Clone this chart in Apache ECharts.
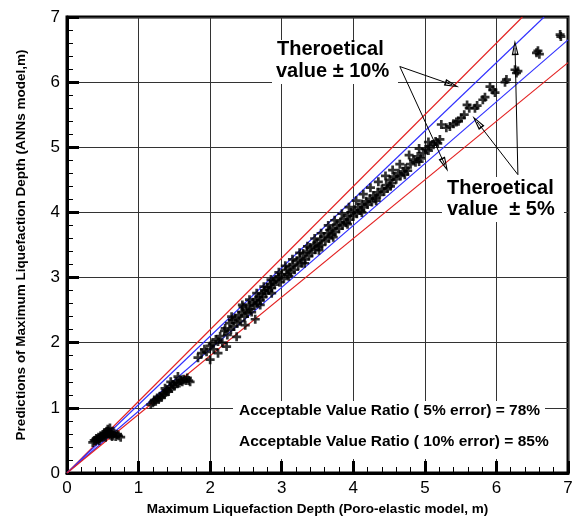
<!DOCTYPE html>
<html>
<head>
<meta charset="utf-8">
<script src="https://cdn.jsdelivr.net/npm/echarts@6/dist/echarts.min.js"></script>
<style>
  html, body { margin: 0; padding: 0; background: #fff; }
  #chart { width: 574px; height: 518px; }
</style>
</head>
<body>
<div id="chart"></div>
<script>
  // poro-elastic depth vs ANN prediction
  const samples = [
    [0.36,0.47],[0.38,0.50],[0.40,0.49],[0.41,0.53],[0.43,0.51],[0.44,0.55],[0.46,0.53],[0.47,0.57],
    [0.48,0.55],[0.50,0.59],[0.51,0.56],[0.52,0.61],[0.53,0.58],[0.55,0.63],[0.56,0.60],[0.57,0.67],
    [0.58,0.64],[0.59,0.61],[0.60,0.69],[0.61,0.58],[0.62,0.63],[0.64,0.58],[0.66,0.61],[0.68,0.56],
    [0.70,0.59],[0.72,0.57],[0.75,0.55],[0.45,0.50],[0.54,0.55],[0.63,0.56],
    [1.17,1.05],[1.20,1.08],[1.22,1.12],[1.24,1.10],[1.26,1.15],[1.28,1.13],[1.30,1.18],[1.32,1.16],
    [1.34,1.22],[1.36,1.20],[1.37,1.30],[1.38,1.24],[1.40,1.27],[1.42,1.25],[1.44,1.33],[1.46,1.30],
    [1.48,1.36],[1.50,1.33],[1.52,1.40],[1.54,1.37],[1.55,1.48],[1.57,1.38],[1.59,1.42],[1.61,1.40],
    [1.63,1.44],[1.66,1.42],[1.68,1.46],[1.70,1.42],[1.72,1.40],[1.45,1.40],
    [1.83,1.77],[1.88,1.84],[1.92,1.90],[1.95,1.86],[2.00,1.74],[2.00,1.95],[2.03,1.98],[2.05,1.90],
    [2.08,2.05],[2.11,1.84],[2.11,2.02],[2.14,2.10],[2.17,2.00],[2.20,2.18],[2.21,2.22],[2.23,1.94],
    [2.24,2.12],[2.27,2.30],[2.29,2.20],[2.31,2.35],[2.33,2.25],[2.35,2.38],[2.37,2.09],[2.38,2.30],
    [2.40,2.42],[2.42,2.33],[2.44,2.47],[2.46,2.55],[2.48,2.40],[2.49,2.27],[2.50,2.50],[2.52,2.45],
    [2.54,2.58],[2.56,2.52],[2.58,2.47],[2.60,2.62],[2.62,2.57],[2.63,2.36],[2.64,2.66],[2.66,2.60],
    [2.68,2.70],[2.70,2.65],[2.72,2.75],[2.74,2.70],[2.76,2.80],[2.78,2.76],[2.80,2.85],[2.82,2.80],
    [2.84,2.90],[2.86,2.84],[2.88,2.94],[2.90,2.89],[2.92,2.97],[2.95,3.01],[2.97,2.93],
    [2.30,2.40],[2.45,2.58],[2.55,2.66],[2.65,2.76],[2.75,2.86],[2.85,2.97],[2.96,3.08],[2.70,2.58],
    [2.86,2.76],
    [3.00,3.05],[3.03,2.98],[3.06,3.12],[3.08,3.05],[3.11,3.16],[3.13,3.08],[3.16,3.20],[3.18,3.12],
    [3.21,3.26],[3.23,3.18],[3.26,3.30],[3.28,3.22],[3.30,3.37],[3.33,3.28],[3.35,3.40],[3.38,3.33],
    [3.40,3.46],[3.42,3.38],[3.45,3.50],[3.47,3.43],[3.49,3.53],[3.52,3.47],[3.54,3.58],[3.56,3.50],
    [3.59,3.63],[3.61,3.56],[3.64,3.68],[3.66,3.60],[3.67,3.73],[3.70,3.66],[3.72,3.76],[3.75,3.70],
    [3.77,3.81],[3.80,3.75],[3.82,3.85],[3.85,3.80],[3.87,3.90],[3.90,3.84],[3.92,3.95],[3.95,3.89],
    [3.97,4.00],[4.00,3.94],[4.02,4.04],[4.05,3.98],[4.07,4.08],[4.10,4.03],[4.12,4.13],[4.15,4.08],
    [4.18,4.17],[4.20,4.12],[4.23,4.21],[4.26,4.16],[4.28,4.26],[4.31,4.22],[4.34,4.31],[4.37,4.27],
    [4.40,4.36],[4.43,4.32],[4.46,4.42],[4.48,4.37],
    [3.05,3.18],[3.15,3.28],[3.25,3.38],[3.36,3.48],[3.46,3.60],[3.55,3.68],[3.65,3.80],[3.74,3.88],
    [3.84,3.98],[3.94,4.08],[4.04,4.18],[4.14,4.28],[4.24,4.38],[4.35,4.47],[4.45,4.56],
    [3.10,3.02],[3.32,3.22],[3.52,3.42],[3.72,3.62],[3.92,3.82],[4.12,4.00],[4.32,4.18],
    [4.51,4.50],[4.54,4.45],[4.57,4.55],[4.60,4.51],[4.63,4.60],[4.66,4.56],[4.70,4.63],[4.73,4.68],
    [4.76,4.64],[4.80,4.74],[4.84,4.81],[4.87,4.77],[4.90,4.86],[4.94,4.83],[4.98,4.91],[5.01,4.97],
    [5.05,4.95],[5.08,5.02],[5.12,5.04],[5.15,5.09],[5.18,5.06],[5.21,5.12],[5.23,5.35],[5.30,5.30],
    [5.35,5.32],[5.40,5.36],[5.44,5.39],[5.47,5.40],[5.51,5.45],[5.55,5.50],
    [4.55,4.65],[4.65,4.74],[4.78,4.88],[4.92,4.98],[5.05,5.08],[4.52,4.40],[4.72,4.58],[4.92,4.78],
    [5.59,5.65],[5.62,5.60],[5.70,5.60],[5.73,5.64],[5.81,5.73],[5.84,5.77],[5.91,5.93],[5.95,5.88],
    [5.98,5.84],[6.12,6.00],[6.14,6.04],[6.26,6.19],[6.28,6.14],[6.30,6.17],[6.56,6.45],[6.60,6.43],
    [6.58,6.48],[6.89,6.73],[6.90,6.70]
  ];

  // error band ratios (prediction = ratio * theoretical)
  const bandRatios = [1.1, 1.05, 0.95, 0.9];
  const bandColors = ['#e32020', '#3030ff', '#3030ff', '#e32020'];

  // annotation arrows, [from, to] in data units
  const arrows10 = [
    [[4.65, 6.24], [5.38, 5.96]],
    [[4.65, 6.24], [5.28, 4.73]]
  ];
  const arrows5 = [
    [[6.30, 4.58], [5.73, 5.39]],
    [[6.30, 4.58], [6.26, 6.53]]
  ];

  const axisMax = 7;
  const font = '"Liberation Sans", Arial, sans-serif';
  const hollowHead = 'path://M5,0L10,20L0,20Z M5,6L2.2,18L7.8,18Z';

  const chart = echarts.init(document.getElementById('chart'));

  const bandSeries = bandRatios.map((r, i) => ({
    type: 'line',
    color: bandColors[i],
    data: [[0, 0], r > 1 ? [axisMax / r, axisMax] : [axisMax, axisMax * r]],
    symbol: 'none',
    silent: true,
    emphasis: { disabled: true },
    lineStyle: { color: bandColors[i], width: 1.1, opacity: 1 },
    z: 2
  }));

  const arrowLines = arrows10.concat(arrows5).map(a => [
    { coord: a[0], symbol: 'none' },
    { coord: a[1], symbol: hollowHead, symbolSize: [7, 15] }
  ]);

  const axisCommon = {
    type: 'value',
    min: 0,
    max: axisMax,
    interval: 1,
    axisLine: { show: true, onZero: false, lineStyle: { color: '#000', width: 3 } },
    axisTick: { show: true, inside: true, length: 12, lineStyle: { color: '#000', width: 3 } },
    minorTick: { show: true, splitNumber: 5, length: 6, lineStyle: { color: '#000', width: 1 } },
    splitLine: { show: true, lineStyle: { color: '#333', width: 1 } },
    axisLabel: { color: '#000', fontSize: 17, fontFamily: font, margin: 7 },
    nameLocation: 'middle',
    nameTextStyle: { color: '#000', fontSize: 13.5, fontWeight: 'bold', fontFamily: font }
  };

  const option = {
    backgroundColor: '#fff',
    animation: false,
    grid: {
      left: 67, right: 6, top: 17, bottom: 45,
      outerBoundsMode: 'none',
      show: true, borderColor: '#000', borderWidth: 3, backgroundColor: 'transparent'
    },
    xAxis: Object.assign({}, axisCommon, {
      name: 'Maximum Liquefaction Depth (Poro-elastic model, m)',
      nameGap: 28
    }),
    yAxis: Object.assign({}, axisCommon, {
      name: 'Predictions of Maximum Liquefaction Depth (ANNs model,m)',
      nameGap: 39
    }),
    series: bandSeries.concat([
      {
        type: 'scatter',
        data: samples,
        symbol: 'path://M3.5,0H6.5V3.5H10V6.5H6.5V10H3.5V6.5H0V3.5H3.5Z',
        symbolSize: 9,
        itemStyle: { color: '#000' },
        z: 3,
        markLine: {
          silent: true,
          animation: false,
          label: { show: false },
          lineStyle: { color: '#000', width: 1, type: 'solid' },
          emphasis: { disabled: true },
          data: arrowLines,
          z: 6
        }
      }
    ]),
    graphic: [
      { type: 'rect', shape: { x: 272, y: 40, width: 126, height: 44 }, style: { fill: '#fff' }, z: 5 },
      { type: 'text', x: 277, y: 39, z: 6, style: { text: 'Theroetical', font: 'bold 20px ' + font, fill: '#000' } },
      { type: 'text', x: 276, y: 61, z: 6, style: { text: 'value \u00b1 10%', font: 'bold 20px ' + font, fill: '#000' } },

      { type: 'rect', shape: { x: 442, y: 177, width: 122, height: 45 }, style: { fill: '#fff' }, z: 5 },
      { type: 'text', x: 447, y: 178, z: 6, style: { text: 'Theroetical', font: 'bold 20px ' + font, fill: '#000' } },
      { type: 'text', x: 447, y: 199, z: 6, style: { text: 'value  \u00b1 5%', font: 'bold 20px ' + font, fill: '#000' } },

      { type: 'rect', shape: { x: 233, y: 401, width: 312, height: 58 }, style: { fill: '#fff' }, z: 5 },
      { type: 'text', x: 239, y: 403, z: 6, style: { text: 'Acceptable Value Ratio ( 5% error) = 78%', font: 'bold 15.5px ' + font, fill: '#000' } },
      { type: 'text', x: 239, y: 434, z: 6, style: { text: 'Acceptable Value Ratio ( 10% error) = 85%', font: 'bold 15.5px ' + font, fill: '#000' } }
    ]
  };

  chart.setOption(option);
</script>
</body>
</html>
